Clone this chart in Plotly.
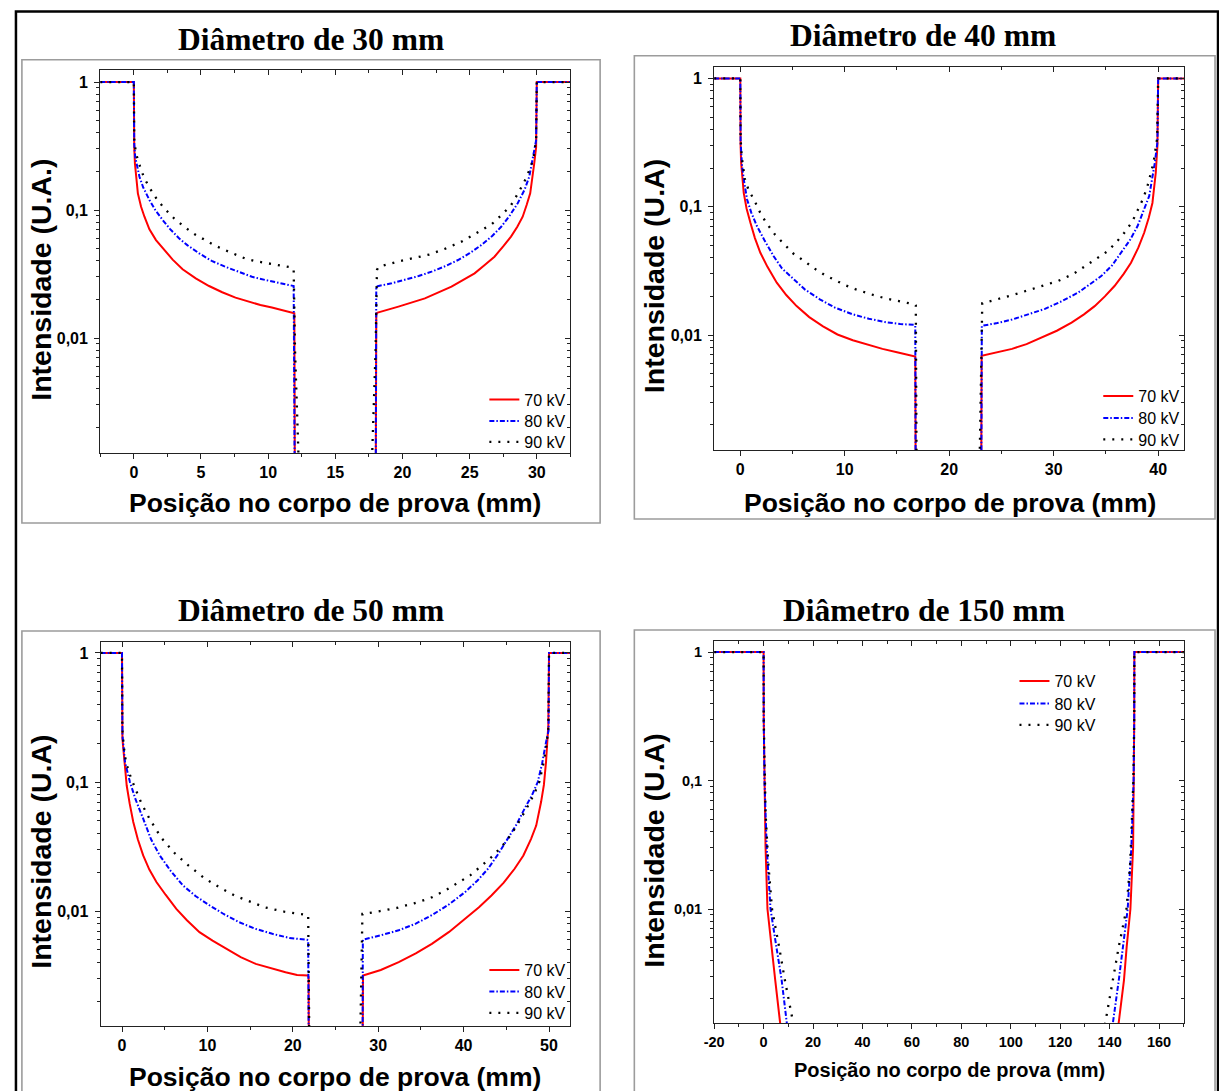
import plotly.graph_objects as go

# ---------------- data ----------------
series_names = ["70 kV", "80 kV", "90 kV"]

# Diâmetro de 30 mm
x30_70 = [-2.5, 0, 0.03, 0.08, 0.3, 0.54, 0.79, 1.16, 1.65, 2.27, 2.89, 3.63, 4.61, 5.6, 6.58, 7.57, 8.56, 9.42, 10.28, 11.1, 11.84, 11.95, 12.0,
          18.0, 18.05, 18.15, 19.7, 21.67, 23.65, 24.5, 25.37, 26.1, 26.85, 27.5, 28.08, 28.55, 28.95, 29.25, 29.51, 29.81, 29.95, 30.0, 32.5]
y30_70 = [1, 1, 0.31, 0.232, 0.135, 0.106, 0.0887, 0.0706, 0.0583, 0.0487, 0.041, 0.0345, 0.0293, 0.0255, 0.0228, 0.0207, 0.0192, 0.0181, 0.0173, 0.0165, 0.0158, 0.0156, 0.0003,
          0.0003, 0.0156, 0.0158, 0.0176, 0.0204, 0.0252, 0.0283, 0.032, 0.037, 0.0432, 0.052, 0.062, 0.074, 0.0887, 0.11, 0.135, 0.232, 0.31, 1, 1]
x30_80 = [-2.5, 0, 0.03, 0.1, 0.42, 0.7, 1.16, 1.6, 2.15, 2.7, 3.38, 4.0, 4.86, 5.8, 6.83, 7.8, 8.8, 9.8, 10.78, 11.76, 11.9, 12.0,
          18.0, 18.05, 18.22, 19.2, 20.19, 21.2, 22.17, 23.2, 24.14, 25.0, 25.87, 26.7, 27.35, 28.0, 28.58, 29.1, 29.44, 29.81, 29.95, 30.0, 32.5]
y30_80 = [1, 1, 0.33, 0.26, 0.182, 0.15, 0.12, 0.1, 0.0835, 0.071, 0.060, 0.053, 0.0459, 0.040, 0.036, 0.033, 0.0301, 0.0284, 0.027, 0.0259, 0.0255, 0.0003,
          0.0003, 0.0252, 0.0255, 0.0268, 0.0284, 0.0305, 0.033, 0.0365, 0.0407, 0.046, 0.0533, 0.063, 0.074, 0.091, 0.113, 0.145, 0.182, 0.294, 0.35, 1, 1]
x30_90 = [-2.5, 0, 0.03, 0.15, 0.42, 0.75, 1.16, 1.7, 2.27, 3.0, 3.75, 4.5, 5.3, 6.0, 6.78, 7.5, 8.26, 9.0, 9.79, 10.6, 11.35, 11.8, 11.9, 12.0, 12.45,
          17.55, 18.0, 18.1, 18.22, 19.83, 21.0, 22.04, 23.2, 24.39, 25.5, 26.66, 27.4, 28.08, 28.6, 29.07, 29.45, 29.76, 29.95, 30.0, 32.5]
y30_90 = [1, 1, 0.36, 0.28, 0.225, 0.18, 0.150, 0.122, 0.103, 0.086, 0.074, 0.065, 0.0583, 0.053, 0.0487, 0.045, 0.0419, 0.040, 0.0388, 0.0375, 0.0365, 0.0355, 0.034, 0.008, 0.0003,
          0.0003, 0.008, 0.034, 0.036, 0.040, 0.0425, 0.045, 0.050, 0.0566, 0.066, 0.0778, 0.092, 0.109, 0.135, 0.166, 0.205, 0.253, 0.36, 1, 1]

# Diâmetro de 40 mm
x40_70 = [-2.5, 0, 0.03, 0.08, 0.33, 0.6, 0.97, 1.4, 1.92, 2.6, 3.49, 4.4, 5.39, 6.6, 7.92, 9.3, 10.77, 12.2, 13.61, 15.1, 16.62, 16.75, 16.8,
          23.05, 23.1, 24.6, 26.01, 27.4, 28.86, 30.3, 31.71, 32.9, 33.92, 34.9, 35.82, 36.7, 37.4, 38.1, 38.66, 39.1, 39.45, 39.77, 39.93, 40.0, 42.5]
y40_70 = [1, 1, 0.30, 0.22, 0.128, 0.097, 0.075, 0.057, 0.0438, 0.034, 0.0256, 0.0205, 0.0168, 0.0138, 0.0117, 0.0101, 0.0091, 0.0084, 0.0078, 0.0073, 0.0069, 0.0068, 0.0003,
          0.0003, 0.0069, 0.0073, 0.0078, 0.0085, 0.00953, 0.0108, 0.0125, 0.0145, 0.0168, 0.020, 0.0241, 0.030, 0.0366, 0.048, 0.0627, 0.082, 0.107, 0.184, 0.30, 1, 1]
x40_80 = [-2.5, 0, 0.03, 0.17, 0.35, 0.65, 1.05, 1.59, 2.3, 3.18, 4.0, 5.08, 6.2, 7.61, 9.1, 10.77, 12.3, 13.93, 15.3, 16.62, 16.75, 16.8,
          23.05, 23.12, 24.6, 26.01, 27.6, 29.17, 30.8, 32.33, 33.5, 34.55, 35.6, 36.45, 37.3, 38.03, 38.6, 39.14, 39.68, 39.93, 40.0, 42.5]
y40_80 = [1, 1, 0.32, 0.207, 0.16, 0.114, 0.09, 0.0707, 0.055, 0.0413, 0.033, 0.0272, 0.0226, 0.019, 0.0163, 0.0145, 0.0134, 0.0126, 0.0122, 0.012, 0.0118, 0.0003,
          0.0003, 0.0118, 0.0124, 0.0132, 0.0145, 0.016, 0.0184, 0.0214, 0.025, 0.0288, 0.035, 0.0438, 0.055, 0.0707, 0.092, 0.121, 0.22, 0.32, 1, 1]
x40_90 = [-2.5, 0, 0.03, 0.15, 0.43, 0.8, 1.35, 1.9, 2.48, 3.3, 4.22, 5.1, 6.12, 7.1, 8.14, 9.1, 10.04, 11.0, 11.97, 12.9, 13.93, 14.9, 15.83, 16.72, 16.8, 16.9,
          22.8, 23.1, 23.16, 24.3, 25.5, 26.5, 27.6, 29.0, 30.43, 31.9, 33.28, 34.3, 35.18, 36.0, 36.76, 37.5, 38.03, 38.55, 38.98, 39.55, 39.9, 40.0, 42.5]
y40_90 = [1, 1, 0.34, 0.24, 0.165, 0.135, 0.112, 0.09, 0.075, 0.061, 0.0509, 0.043, 0.0377, 0.033, 0.0292, 0.0266, 0.0245, 0.0228, 0.0214, 0.0203, 0.0193, 0.0185, 0.0179, 0.0173, 0.017, 0.0003,
          0.0003, 0.0175, 0.0177, 0.0187, 0.0198, 0.021, 0.0224, 0.0243, 0.0264, 0.030, 0.0356, 0.040, 0.0451, 0.053, 0.0627, 0.076, 0.0925, 0.115, 0.145, 0.22, 0.34, 1, 1]

# Diâmetro de 50 mm
x50_70 = [-2.5, 0, 0.05, 0.15, 0.3, 0.55, 0.9, 1.32, 1.85, 2.48, 3.2, 4.03, 5.1, 6.36, 7.6, 9.07, 10.6, 12.17, 13.9, 15.66, 17.4, 19.15, 20.5, 21.78, 21.85, 21.9,
          28.15, 28.2, 28.22, 30.3, 32.4, 34.4, 36.28, 38.3, 40.15, 41.8, 43.26, 44.7, 45.97, 47.0, 47.9, 48.5, 49.07, 49.4, 49.65, 49.92, 50.0, 52.5]
y50_70 = [1, 1, 0.217, 0.181, 0.135, 0.094, 0.068, 0.049, 0.036, 0.027, 0.021, 0.0168, 0.0134, 0.0104, 0.0085, 0.00687, 0.0059, 0.0051, 0.0044, 0.0039, 0.0036, 0.00336, 0.0032, 0.00317, 0.0031, 0.0003,
          0.0003, 0.0031, 0.00317, 0.0035, 0.00403, 0.0047, 0.00558, 0.0069, 0.0087, 0.0107, 0.0132, 0.0166, 0.0213, 0.027, 0.0363, 0.046, 0.07, 0.095, 0.143, 0.275, 1, 1]
x50_80 = [-2.5, 0, 0.05, 0.15, 0.35, 0.93, 1.6, 2.48, 3.4, 4.42, 5.7, 7.13, 8.6, 10.23, 11.9, 13.72, 15.6, 17.6, 19.6, 21.67, 21.8, 21.9,
          28.15, 28.2, 28.22, 30.3, 32.4, 34.4, 36.28, 38.3, 40.15, 41.6, 42.86, 44.1, 45.2, 46.2, 47.13, 48.0, 48.68, 49.2, 49.65, 49.95, 50.0, 52.5]
y50_80 = [1, 1, 0.23, 0.19, 0.143, 0.1, 0.073, 0.052, 0.036, 0.027, 0.0205, 0.0158, 0.0131, 0.0111, 0.0095, 0.0082, 0.0073, 0.00667, 0.0062, 0.006, 0.0059, 0.0003,
          0.0003, 0.0059, 0.006, 0.0065, 0.0071, 0.008, 0.0093, 0.0113, 0.014, 0.0172, 0.0213, 0.028, 0.0363, 0.047, 0.062, 0.079, 0.1, 0.14, 0.204, 0.25, 1, 1]
x50_90 = [-2.5, 0, 0.04, 0.2, 0.46, 0.9, 1.43, 2.3, 3.26, 4.6, 6.13, 7.8, 9.65, 11.4, 13.18, 15.0, 16.71, 19.0, 21.47, 21.8, 22.0,
          27.75, 28.15, 28.22, 30.2, 32.21, 34.2, 36.08, 37.9, 39.57, 40.8, 41.9, 43.2, 44.42, 45.4, 46.24, 47.1, 47.79, 48.4, 48.88, 49.3, 49.65, 49.92, 50.0, 52.5]
y50_90 = [1, 1, 0.259, 0.19, 0.143, 0.115, 0.093, 0.068, 0.0514, 0.037, 0.0283, 0.0225, 0.018, 0.0153, 0.0132, 0.0118, 0.0107, 0.0099, 0.0094, 0.0093, 0.0003,
          0.0003, 0.0095, 0.0095, 0.0100, 0.0106, 0.0115, 0.0126, 0.0145, 0.0168, 0.019, 0.0219, 0.026, 0.0313, 0.038, 0.0461, 0.058, 0.070, 0.085, 0.101, 0.135, 0.181, 0.26, 1, 1]

# Diâmetro de 150 mm
x150_70 = [-20, 0, 0.05, 0.3, 0.78, 1.56, 3.1, 4.7, 6.7, 8.5, 141.5, 143.7, 145.8, 146.9, 148.4, 149.5, 149.8, 149.95, 150.0, 170.2]
y150_70 = [1, 1, 0.3, 0.1, 0.0305, 0.01, 0.0051, 0.0028, 0.00129, 0.0006, 0.0006, 0.00129, 0.0028, 0.0051, 0.01, 0.0305, 0.1, 0.3, 1, 1]
x150_80 = [-20, 0, 0.05, 0.35, 1.25, 2.8, 5.15, 7.3, 9.4, 11.0, 139.0, 141.3, 143.7, 145.4, 147.3, 148.8, 149.7, 149.95, 150.0, 170.2]
y150_80 = [1, 1, 0.3, 0.1, 0.0305, 0.01, 0.0051, 0.0028, 0.00129, 0.0007, 0.0007, 0.00129, 0.0028, 0.0051, 0.01, 0.0305, 0.1, 0.3, 1, 1]
x150_90 = [-20, 0, 0.05, 0.4, 0.8, 1.9, 3.4, 6.25, 8.6, 12.0, 14.0, 136.0, 138.2, 141.3, 143.7, 146.8, 148.3, 149.1, 149.6, 149.95, 150.0, 170.2]
y150_90 = [1, 1, 0.3, 0.1, 0.0554, 0.0226, 0.01, 0.0051, 0.0028, 0.00129, 0.0007, 0.0007, 0.00129, 0.0028, 0.0051, 0.01, 0.0226, 0.0554, 0.1, 0.3, 1, 1]

# tick labels
x30_ticks = [0, 5, 10, 15, 20, 25, 30]
x40_ticks = [0, 10, 20, 30, 40]
x50_ticks = [0, 10, 20, 30, 40, 50]
x150_ticks = [-20, 0, 20, 40, 60, 80, 100, 120, 140, 160]
y_ticks = [0.01, 0.1, 1]
y_ticktext = ["0,01", "0,1", "1"]
# ----------------------------------------------------------------

W, H = 1219, 1091


def fx(p):
    return p / W


def fy(p):
    return 1 - p / H


SANS = "Liberation Sans, Arial, sans-serif"
SERIF = "Liberation Serif, Times New Roman, serif"
AX = "#222222"

colors = ["#ff0000", "#0000ff", "#000000"]
dashes = ["solid", "5px,2px,1.5px,2px", "2px,7px"]
widths = [2.0, 2.0, 2.3]

panels = [
    dict(title="Diâmetro de 30 mm", ytitle="Intensidade (U.A.)",
         xs=[x30_70, x30_80, x30_90], ys=[y30_70, y30_80, y30_90],
         xrange=[-2.5, 32.5], yrange=[-2.898, 0.094], xticks=x30_ticks, xminor=2.5,
         dom_x=(91, 565), dom_y=(70, 453),
         title_xy=(303.5, 39), ytitle_xy=(31, 280), xtitle_xy=(328, 503), xtitle_size=26.5,
         leg_right=565, leg_rows=(399.5, 421, 442), tick_size=16,
         frame=(12, 59.8, 595, 523)),
    dict(title="Diâmetro de 40 mm", ytitle="Intensidade (U.A)",
         xs=[x40_70, x40_80, x40_90], ys=[y40_70, y40_80, y40_90],
         xrange=[-2.5, 42.5], yrange=[-2.896, 0.093], xticks=x40_ticks, xminor=5,
         dom_x=(710, 1184), dom_y=(66.5, 450),
         title_xy=(921, 35.5), ytitle_xy=(649, 276.5), xtitle_xy=(947.5, 503), xtitle_size=26.5,
         leg_right=1184, leg_rows=(396, 418, 439.5), tick_size=16,
         frame=(629.5, 55.7, 1215, 519)),
    dict(title="Diâmetro de 50 mm", ytitle="Intensidade (U.A)",
         xs=[x50_70, x50_80, x50_90], ys=[y50_70, y50_80, y50_90],
         xrange=[-2.5, 52.5], yrange=[-2.89, 0.085], xticks=x50_ticks, xminor=5,
         dom_x=(91.4, 565), dom_y=(642, 1026),
         title_xy=(303.5, 610), ytitle_xy=(31, 852), xtitle_xy=(328, 1077), xtitle_size=26.5,
         leg_right=565, leg_rows=(970, 991.5, 1013), tick_size=16,
         frame=(12, 631, 595, 1110)),
    dict(title="Diâmetro de 150 mm", ytitle="Intensidade (U.A)",
         xs=[x150_70, x150_80, x150_90], ys=[y150_70, y150_80, y150_90],
         xrange=[-20, 170.2], yrange=[-2.887, 0.086], xticks=x150_ticks, xminor=10,
         dom_x=(710, 1184), dom_y=(641, 1023),
         title_xy=(922, 610), ytitle_xy=(649, 851), xtitle_xy=(947, 1070), xtitle_size=20,
         leg_right=1099.5, leg_rows=(681, 703.5, 725), tick_size=14.5,
         frame=(629.5, 630, 1215, 1110)),
]

for p in panels:
    for xs, ys in zip(p["xs"], p["ys"]):
        if len(xs) != len(ys):
            raise ValueError("length mismatch in " + p["title"])

y_minor = [k * 10 ** e for e in (-3, -2, -1) for k in range(2, 10)]

fig = go.Figure()
layout = {}
annotations = []
shapes = []
legend_idx = 0

for i, p in enumerate(panels):
    n = i + 1
    xref = "x" if n == 1 else f"x{n}"
    yref = "y" if n == 1 else f"y{n}"
    xkey = "xaxis" if n == 1 else f"xaxis{n}"
    ykey = "yaxis" if n == 1 else f"yaxis{n}"
    oxref, oyref = f"x{n + 4}", f"y{n + 4}"
    oxkey, oykey = f"xaxis{n + 4}", f"yaxis{n + 4}"

    x0, x1 = p["xrange"]
    step = p["xminor"]
    k0 = int(x0 // step)
    k1 = int(x1 // step) + 1
    xminor_vals = [k * step for k in range(k0, k1 + 1) if x0 <= k * step <= x1]

    tickfont = dict(family=SANS, size=p["tick_size"], color="black", weight="bold")

    layout[xkey] = dict(
        domain=[fx(p["dom_x"][0]), fx(p["dom_x"][1])], range=p["xrange"], anchor=yref,
        tickmode="array", tickvals=p["xticks"], ticktext=[str(v) for v in p["xticks"]],
        ticks="outside", ticklen=5, tickwidth=1.2, tickcolor=AX,
        minor=dict(ticks="outside", ticklen=3, tickwidth=1, tickcolor=AX, tickmode="array", tickvals=xminor_vals),
        showline=True, linecolor=AX, linewidth=1.3, mirror=True,
        showgrid=False, zeroline=False, tickfont=tickfont,
    )
    layout[ykey] = dict(
        domain=[fy(p["dom_y"][1]), fy(p["dom_y"][0])], range=p["yrange"], type="log", anchor=xref,
        tickmode="array", tickvals=y_ticks, ticktext=y_ticktext,
        ticks="outside", ticklen=5, tickwidth=1.2, tickcolor=AX,
        minor=dict(ticks="outside", ticklen=3, tickwidth=1, tickcolor=AX, tickmode="array", tickvals=y_minor),
        showline=True, linecolor=AX, linewidth=1.3, mirror=True,
        showgrid=False, zeroline=False, tickfont=tickfont, ticklabelstandoff=3,
    )
    # mirrored axes with inward ticks (top and right)
    layout[oxkey] = dict(
        overlaying=xref, side="top", anchor=yref, range=p["xrange"],
        tickmode="array", tickvals=p["xticks"], showticklabels=False,
        ticks="inside", ticklen=5, tickwidth=1.2, tickcolor=AX,
        minor=dict(ticks="inside", ticklen=3, tickwidth=1, tickcolor=AX, tickmode="array", tickvals=xminor_vals),
        showline=False, showgrid=False, zeroline=False,
    )
    layout[oykey] = dict(
        overlaying=yref, side="right", anchor=xref, range=p["yrange"], type="log",
        tickmode="array", tickvals=y_ticks, showticklabels=False,
        ticks="inside", ticklen=5, tickwidth=1.2, tickcolor=AX,
        minor=dict(ticks="inside", ticklen=3, tickwidth=1, tickcolor=AX, tickmode="array", tickvals=y_minor),
        showline=False, showgrid=False, zeroline=False,
    )
    fig.add_trace(go.Scatter(x=[], y=[], xaxis=oxref, yaxis=yref, showlegend=False, hoverinfo="skip"))
    fig.add_trace(go.Scatter(x=[], y=[], xaxis=xref, yaxis=oyref, showlegend=False, hoverinfo="skip"))

    for s in range(3):
        lname = "legend" if legend_idx == 0 else f"legend{legend_idx + 1}"
        fig.add_trace(go.Scatter(
            x=p["xs"][s], y=p["ys"][s], mode="lines", name=series_names[s],
            line=dict(color=colors[s], width=widths[s], dash=dashes[s]),
            xaxis=xref, yaxis=yref, legend=lname, showlegend=True,
        ))
        layout[lname] = dict(
            x=fx(p["leg_right"] + 1), xanchor="right",
            y=fy(p["leg_rows"][s]), yanchor="middle",
            bgcolor="rgba(0,0,0,0)", borderwidth=0,
            font=dict(family=SANS, size=16, color="black"),
        )
        legend_idx += 1

    # panel title
    annotations.append(dict(
        text=p["title"], x=fx(p["title_xy"][0]), y=fy(p["title_xy"][1]),
        xref="paper", yref="paper", xanchor="center", yanchor="middle", showarrow=False,
        font=dict(family=SERIF, size=31.5, color="black", weight="bold"),
    ))
    # y title
    annotations.append(dict(
        text=p["ytitle"], x=fx(p["ytitle_xy"][0]), y=fy(p["ytitle_xy"][1]),
        xref="paper", yref="paper", xanchor="center", yanchor="middle", showarrow=False,
        textangle=-90, font=dict(family=SANS, size=28.5, color="black", weight="bold"),
    ))
    # x title
    annotations.append(dict(
        text="Posição no corpo de prova (mm)", x=fx(p["xtitle_xy"][0]), y=fy(p["xtitle_xy"][1]),
        xref="paper", yref="paper", xanchor="center", yanchor="middle", showarrow=False,
        font=dict(family=SANS, size=p["xtitle_size"], color="black", weight="bold"),
    ))
    # gray panel frame
    fl, ft, fr, fb = p["frame"]
    shapes.append(dict(type="rect", xref="paper", yref="paper",
                       x0=fx(fl), x1=fx(fr), y0=fy(fb), y1=fy(ft),
                       line=dict(color="#9c9c9c", width=1.6), fillcolor="rgba(0,0,0,0)"))

# outer black frame
shapes.append(dict(type="rect", xref="paper", yref="paper",
                   x0=fx(6), x1=fx(1218), y0=fy(1110), y1=fy(11.5),
                   line=dict(color="black", width=2.5), fillcolor="rgba(0,0,0,0)"))

fig.update_layout(
    width=W, height=H, margin=dict(l=0, r=0, t=0, b=0, pad=0),
    paper_bgcolor="white", plot_bgcolor="white",
    annotations=annotations, shapes=shapes, showlegend=True,
    **layout,
)

fig.write_html("out.html")
